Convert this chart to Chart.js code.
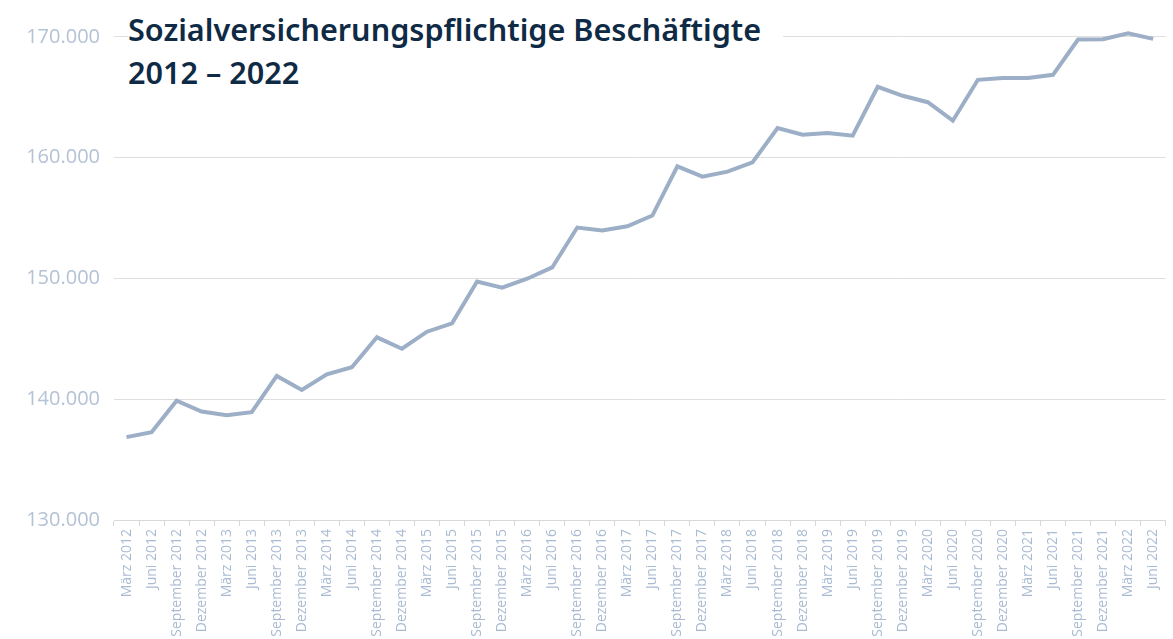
<!DOCTYPE html>
<html><head><meta charset="utf-8">
<script src="https://cdn.jsdelivr.net/npm/chart.js@4"></script>
<style>
html,body{margin:0;padding:0;background:#fff;overflow:hidden}
#wrap{position:relative;width:1173px;height:639px}
#title{position:absolute;left:128px;top:8px;background:#fff;padding:0 22px 4px 0;font-family:"Noto Sans",sans-serif;font-weight:600;font-size:30.6px;line-height:43px;color:#0f2a45;white-space:nowrap}
</style></head>
<body>
<div id="wrap"><canvas id="c" width="1173" height="639"></canvas>
<div id="title">Sozialversicherungspflichtige Beschäftigte<br>2012 – 2022</div></div>
<script>
const categories = [
 "März 2012","Juni 2012","September 2012","Dezember 2012",
 "März 2013","Juni 2013","September 2013","Dezember 2013",
 "März 2014","Juni 2014","September 2014","Dezember 2014",
 "März 2015","Juni 2015","September 2015","Dezember 2015",
 "März 2016","Juni 2016","September 2016","Dezember 2016",
 "März 2017","Juni 2017","September 2017","Dezember 2017",
 "März 2018","Juni 2018","September 2018","Dezember 2018",
 "März 2019","Juni 2019","September 2019","Dezember 2019",
 "März 2020","Juni 2020","September 2020","Dezember 2020",
 "März 2021","Juni 2021","September 2021","Dezember 2021",
 "März 2022","Juni 2022"];
const beschaeftigte = [
 136860,137270,139880,138975,
 138680,138925,141925,140770,
 142065,142645,145125,144180,
 145590,146280,149750,149230,
 149975,150910,154215,153970,
 154320,155205,159280,158430,
 158840,159610,162455,161900,
 162040,161820,165870,165120,
 164590,163060,166445,166585,
 166600,166860,169780,169800,
 170300,169830];
const yTicks = [130000,140000,150000,160000,170000];
const yMin = 130000, yMax = 170900;
function fmt(v){return String(v).replace(/\B(?=(\d{3})+(?!\d))/g,".");}

new Chart(document.getElementById("c"),{
 type:"line",
 data:{labels:categories,datasets:[{data:beschaeftigte,borderColor:"#9cafc7",borderWidth:4,pointRadius:0,tension:0,fill:false,borderJoinStyle:"miter"}]},
 options:{
  responsive:false,animation:false,
  layout:{padding:{top:18,right:5,left:0,bottom:0}},
  plugins:{legend:{display:false},tooltip:{enabled:false},title:{display:false}},
  scales:{
   x:{offset:true,
      grid:{offset:true,drawOnChartArea:false,drawTicks:true,tickLength:6,color:"#d9d9d9"},
      border:{display:true,color:"#d9d9d9"},
      ticks:{autoSkip:false,maxRotation:90,minRotation:90,padding:3,color:"#a9bbd2",font:{family:"Open Sans",size:14,weight:400}},
      afterFit:(s)=>{s.height=119;}},
   y:{min:yMin,max:yMax,
      grid:{color:"#dedede",drawTicks:false},
      border:{display:false},
      afterBuildTicks:(s)=>{s.ticks=yTicks.map(v=>({value:v}));},
      ticks:{padding:14,color:"#b3c2d5",font:{family:"Open Sans",size:20,weight:400},callback:(v)=>fmt(v)},
      afterFit:(s)=>{s.width=114;}}
  }
 }
});
</script>
</body></html>
